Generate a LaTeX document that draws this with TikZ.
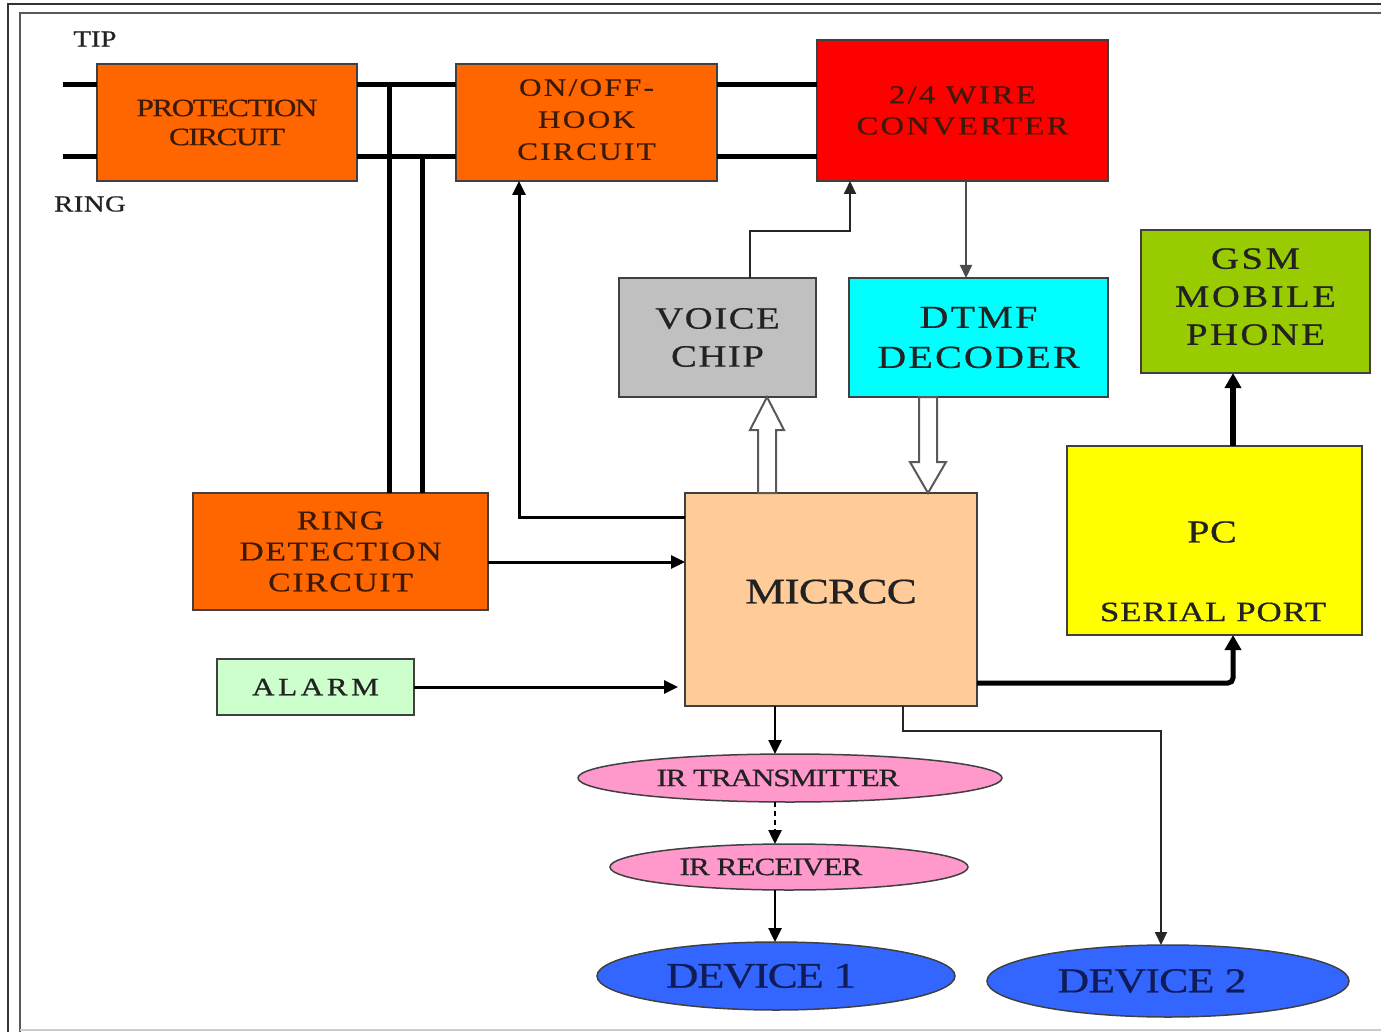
\documentclass[tikz,border=0pt]{standalone}
\usepackage{fontspec}
\setmainfont[FakeStretch=1.25,FakeBold=0.6]{Liberation Serif}
\usetikzlibrary{arrows.meta,calc,shapes.geometric}
\definecolor{orng}{HTML}{FF6600}
\definecolor{rd}{HTML}{FF0000}
\definecolor{gry}{HTML}{C0C0C0}
\definecolor{cyn}{HTML}{00FFFF}
\definecolor{grn}{HTML}{99CC00}
\definecolor{ylw}{HTML}{FFFF00}
\definecolor{pch}{HTML}{FFCC99}
\definecolor{mint}{HTML}{CCFFCC}
\definecolor{pnk}{HTML}{FF99CC}
\definecolor{blu}{HTML}{3366FF}
\definecolor{brn}{HTML}{3D1A08}
\definecolor{txt}{HTML}{222222}
\definecolor{navy}{HTML}{101C5A}
\newcommand{\fs}[3]{\fontsize{#1}{#2}\selectfont\addfontfeature{LetterSpace=#3}}
\begin{document}
\begin{tikzpicture}[x=1pt,y=-1pt,
  box/.style={draw=black!75, line width=1.5pt, inner sep=0pt, outer sep=0pt, align=center, text=txt},
  oval/.style={ellipse, draw=black!75, line width=1.5pt, inner sep=0pt, outer sep=0pt, align=center, text=txt},
  wire/.style={line width=5pt, black},
  tipA/.style={-{Triangle[length=14pt,width=13pt]}},
  a3/.style={line width=3pt, black, tipA},
  a2/.style={line width=2pt, black!85, -{Triangle[length=13pt,width=12pt]}},
  a5/.style={line width=5pt, black, -{Triangle[length=15pt,width=16pt]}},
  hollow/.style={draw=black!65, line width=2pt, fill=white, line join=miter},
  lbl/.style={text=txt, inner sep=0pt}
]
\useasboundingbox (0,0) rectangle (1381,1032);
\fill[white] (0,0) rectangle (1381,1032);
% frame
\draw[line width=1.5pt, black!80] (8,1032) -- (8,4) -- (1381,4);
\draw[line width=2pt, black!65] (20,1032) -- (20,13) -- (1381,13);
\draw[line width=2pt, black!20] (20,1030) -- (1381,1030);

% boxes
\node[box, fill=orng, text=brn, minimum width=260pt, minimum height=117pt, font=\fs{25}{29}{-6}] (prot) at (227,122.5) {PROTECTION\\CIRCUIT};
\node[box, fill=orng, text=brn, minimum width=261pt, minimum height=117pt, font=\fs{25}{32}{9}] (hook) at (586.5,122.5) {ON/OFF-\\HOOK\\CIRCUIT\rule[-6pt]{0pt}{1pt}};
\node[box, fill=rd, text=brn, minimum width=291pt, minimum height=141pt, font=\fs{26}{31}{9}] (conv) at (962.5,110.5) {2/4 WIRE\\CONVERTER};
\node[box, fill=gry, minimum width=197pt, minimum height=119pt, font=\fs{31}{38}{5}] (voice) at (717.5,337.5) {VOICE\\CHIP};
\node[box, fill=cyn, minimum width=259pt, minimum height=119pt, font=\fs{32}{40}{7}] (dtmf) at (978.5,337.5) {DTMF\\DECODER};
\node[box, fill=grn, minimum width=229pt, minimum height=143pt, font=\fs{31}{38}{8}] (gsm) at (1255.5,301.5) {GSM\\MOBILE\\PHONE\rule[-10pt]{0pt}{1pt}};
\node[box, fill=ylw, minimum width=295pt, minimum height=189pt] (pc) at (1214.5,540.5) {};
\node[lbl, font=\fs{32}{38}{2}] (pctxt) at (1212,532) {PC};
\node[lbl, font=\fs{28}{34}{3}] (pcport) at (1213,612) {SERIAL PORT};
\node[box, fill=orng, text=brn, minimum width=295pt, minimum height=117pt, font=\fs{27}{31}{6}] (rdet) at (340.5,551.5) {RING\\DETECTION\\CIRCUIT};
\node[box, fill=mint, minimum width=197pt, minimum height=56pt, font=\fs{25}{30}{14}] (alarm) at (315.5,687) {ALARM};
\node[box, fill=pch, minimum width=292pt, minimum height=213pt, font=\fs{36}{40}{-2}] (micro) at (831,599.5) {\raisebox{16pt}{MICRCC}};
\node[oval, fill=pnk, minimum width=424pt, minimum height=48pt, font=\fs{25}{30}{-5}] (irtx) at (790,778) {IR TRANSMITTER\hspace*{24pt}};
\node[oval, fill=pnk, minimum width=358pt, minimum height=46pt, font=\fs{25}{30}{-4}] (irrx) at (789,867) {IR RECEIVER\hspace*{36pt}};
\node[oval, fill=blu, text=navy, minimum width=358pt, minimum height=68pt, font=\fs{36}{40}{-4}] (dev1) at (776,976) {DEVICE 1\hspace*{30pt}};
\node[oval, fill=blu, text=navy, minimum width=362pt, minimum height=72pt, font=\fs{35}{40}{-2}] (dev2) at (1168,981) {DEVICE 2\hspace*{32pt}};

% labels
\node[lbl, font=\fs{23}{26}{0}] (tip) at (95,39) {TIP};
\node[lbl, font=\fs{23}{26}{2}] (ring) at (90,204) {RING};

% tip / ring wires
\coordinate (tipL) at (63,85);
\coordinate (ringL) at (63,157);
\draw[wire] (tipL) -- (tipL -| prot.west);
\draw[wire] (ringL) -- (ringL -| prot.west);
\draw[wire] (prot.east |- tipL) -- (hook.west |- tipL);
\draw[wire] (prot.east |- ringL) -- (hook.west |- ringL);
\draw[wire] (hook.east |- tipL) -- (conv.west |- tipL);
\draw[wire] (hook.east |- ringL) -- (conv.west |- ringL);
\coordinate (j1) at (389,85);
\coordinate (j2) at (422,157);
\draw[wire] (j1) -- (j1 |- rdet.north);
\draw[wire] (j2) -- (j2 |- rdet.north);

% control connectors
\draw[a3] ($(micro.north west)+(0,24)$) -| (hook.south -| 519,0);
\draw[a3] (rdet.east |- 0,562) -- (micro.west |- 0,562);
\draw[a3, shorten >=7pt] (alarm.east) -- (micro.west |- alarm.east);
\draw[a2] (voice.north -| 750,0) -- ++(0,-47) -| (conv.south -| 850,0);
\draw[a2, black!70] (conv.south -| 966,0) -- (dtmf.north -| 966,0);
\draw[a5, line width=6pt] (pc.north -| 1233,0) -- (gsm.south -| 1233,0);
\draw[a5, rounded corners=5pt] (micro.east |- 0,683) -| (pc.south -| 1233,0);
\draw[a3, line width=2.5pt] (micro.south -| 775,0) -- (irtx.north -| 775,0);
\draw[a3, line width=2.5pt, dash pattern=on 5pt off 4pt] (irtx.south -| 775,0) -- (irrx.north -| 775,0);
\draw[a3, line width=2.5pt] (irrx.south -| 775,0) -- (dev1.north -| 775,0);
\coordinate (d2turn) at (1161,731);
\draw[a2] (micro.south -| 903,0) |- (d2turn) -- (dev2.north -| 1161,0);

% hollow data arrows
\coordinate (vs) at (micro.north -| 767,0);
\coordinate (vt) at (voice.south -| 767,0);
\draw[hollow] ($(vs)+(-9,0)$) -- ($(vt)+(-9,33)$) -- ($(vt)+(-17,33)$) -- (vt) -- ($(vt)+(17,33)$) -- ($(vt)+(9,33)$) -- ($(vs)+(9,0)$) -- cycle;
\coordinate (ds) at (dtmf.south -| 928,0);
\coordinate (dt) at (micro.north -| 928,0);
\draw[hollow] ($(ds)+(-9,0)$) -- ($(dt)+(-9,-31)$) -- ($(dt)+(-18,-31)$) -- (dt) -- ($(dt)+(18,-31)$) -- ($(dt)+(9,-31)$) -- ($(ds)+(9,0)$) -- cycle;
\end{tikzpicture}
\end{document}
